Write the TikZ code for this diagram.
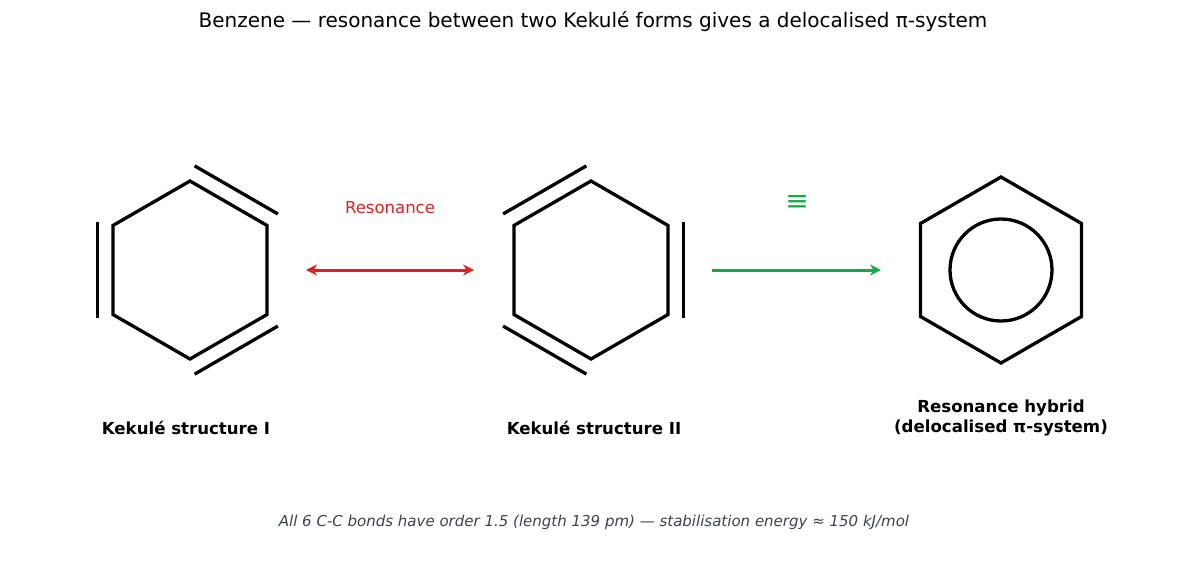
\documentclass[tikz,border=0pt]{standalone}
\usepackage{fontspec}
\setmainfont{DejaVu Sans}
\usetikzlibrary{arrows.meta,calc}
\definecolor{rred}{HTML}{DD2222}
\definecolor{ggreen}{HTML}{18A84A}
\definecolor{foot}{HTML}{3A4255}
\tikzset{bond/.style={line width=3.3pt,line cap=butt,line join=miter},
 lbl/.style={font=\bfseries\fontsize{16.6}{20}\selectfont,align=center}}
\newcommand{\dbl}[3]{% center, P, Q
  \draw[bond] ($($(#1)!1.2!(#2)$)!0.05!($(#1)!1.2!(#3)$)$) -- ($($(#1)!1.2!(#3)$)!0.05!($(#1)!1.2!(#2)$)$);}
\begin{document}
\begin{tikzpicture}[x=1pt,y=-1pt]
\useasboundingbox (0,0) rectangle (1187,573);
\node[font=\fontsize{20}{24}\selectfont] (title) at (593,22) {Benzene — resonance between two Kekulé forms gives a delocalised π-system};
% hexagon I
\coordinate (c1) at (190,270);
\foreach \i/\a in {1/90,2/30,3/-30,4/-90,5/-150,6/150}
  \coordinate (a\i) at ($(c1)+(\a:89 and -89)$);
\draw[bond] (a1)--(a2)--(a3)--(a4)--(a5)--(a6)--cycle;
\dbl{c1}{a1}{a2}\dbl{c1}{a3}{a4}\dbl{c1}{a5}{a6}
% hexagon II
\coordinate (c2) at (591,270);
\foreach \i/\a in {1/90,2/30,3/-30,4/-90,5/-150,6/150}
  \coordinate (b\i) at ($(c2)+(\a:89 and -89)$);
\draw[bond] (b1)--(b2)--(b3)--(b4)--(b5)--(b6)--cycle;
\dbl{c2}{b2}{b3}\dbl{c2}{b4}{b5}\dbl{c2}{b6}{b1}
% hexagon III
\coordinate (c3) at (1001,270);
\foreach \i/\a in {1/90,2/30,3/-30,4/-90,5/-150,6/150}
  \coordinate (h\i) at ($(c3)+(\a:93 and -93)$);
\draw[bond] (h1)--(h2)--(h3)--(h4)--(h5)--(h6)--cycle;
\node[draw,line width=3.3pt,circle,minimum size=102pt,inner sep=0pt] (ring) at (c3) {};
% arrows
\coordinate (r1) at (306,270); \coordinate (r2) at (474,270);
\draw[rred,line width=3pt,{Stealth[length=11pt,width=11pt]}-{Stealth[length=11pt,width=11pt]}] (r1)--(r2);
\node[rred,font=\fontsize{16.5}{20}\selectfont] (res) at (390,208) {Resonance};
\coordinate (g1) at (712,270); \coordinate (g2) at (881,270);
\draw[ggreen,line width=3pt,-{Stealth[length=11pt,width=11pt]}] (g1)--(g2);
\node[ggreen,font=\fontsize{28}{32}\selectfont] (eq) at (797,203) {≡};
% labels
\node[lbl] (l1) at (186,428) {Kekulé structure I};
\node[lbl] (l2) at (594,428) {Kekulé structure II};
\node[lbl] (l3) at (1001,418) {Resonance hybrid\\(delocalised π-system)};
\node[foot,font=\itshape\fontsize{15}{18}\selectfont] (ft) at (594,522) {All 6 C-C bonds have order 1.5 (length 139 pm) — stabilisation energy ≈ 150 kJ/mol};
\end{tikzpicture}
\end{document}
